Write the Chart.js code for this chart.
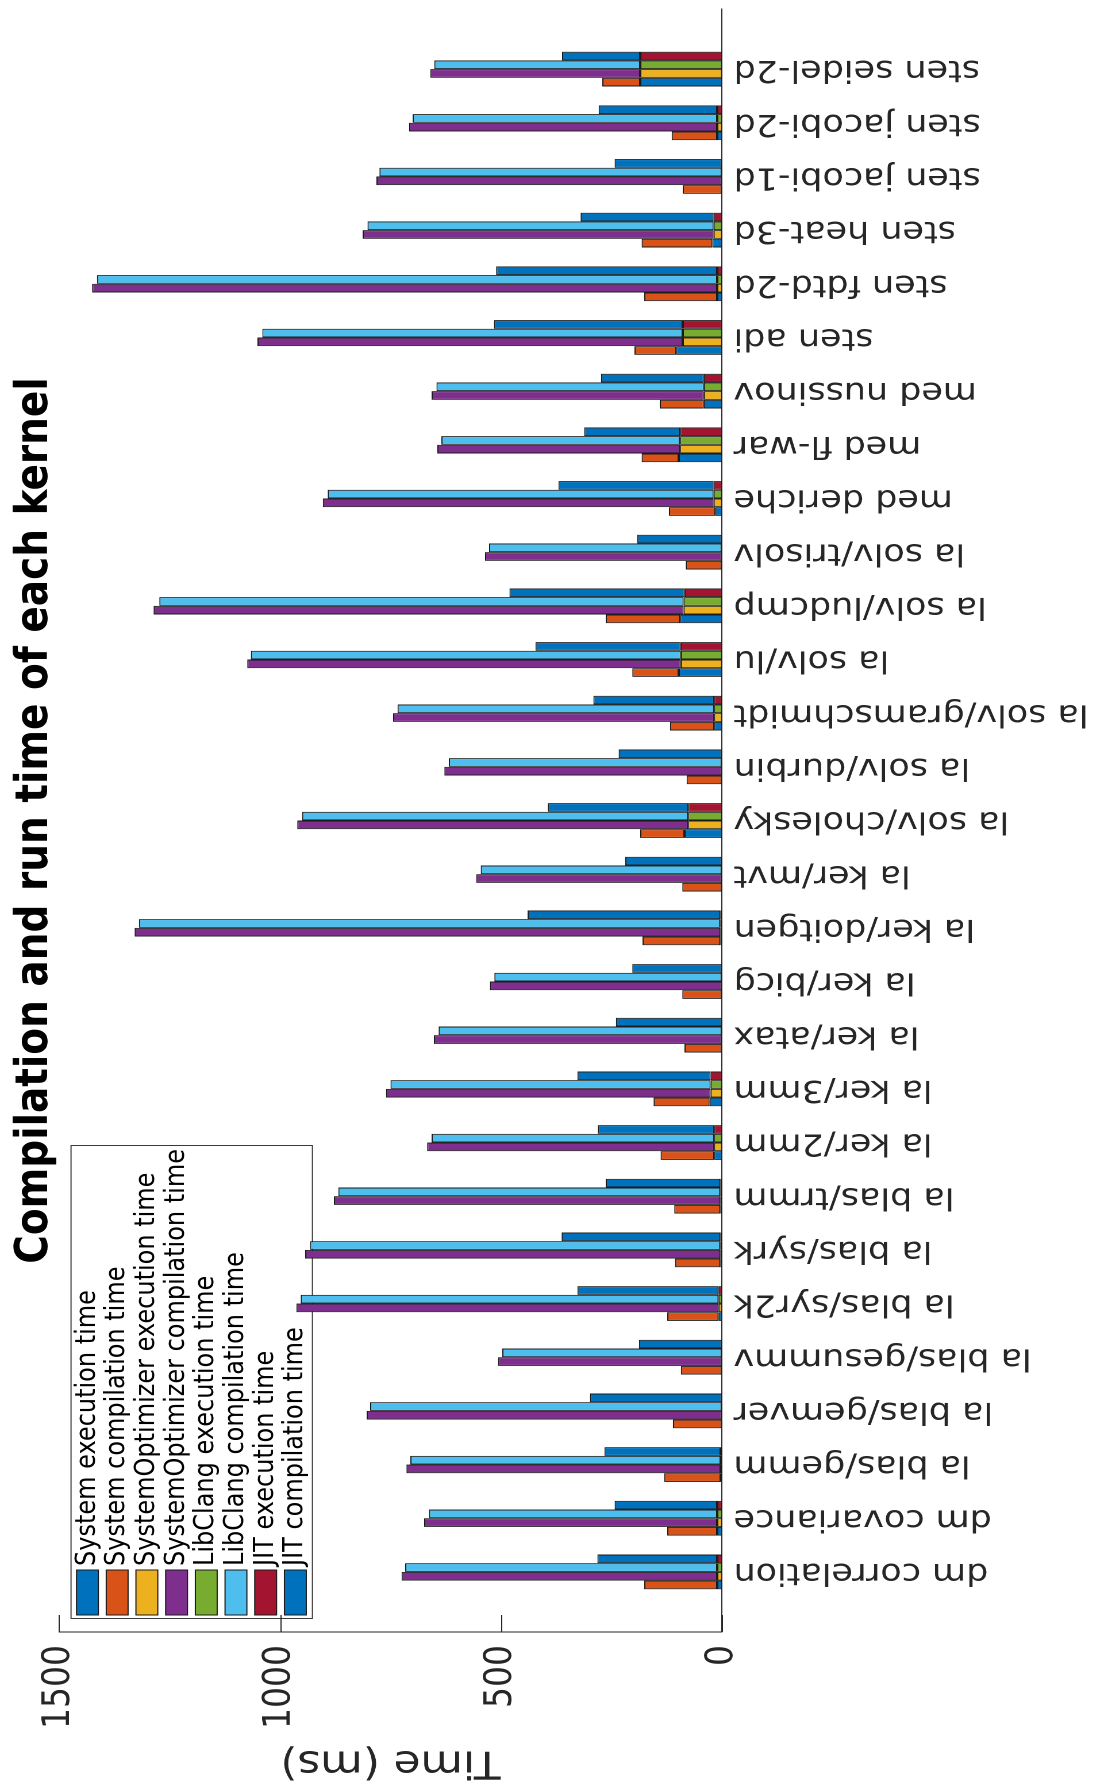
<!DOCTYPE html>
<html>
<head>
<meta charset="utf-8">
<script src="https://cdn.jsdelivr.net/npm/chart.js@4.4.1/dist/chart.umd.min.js"></script>
<style>
  html, body { margin: 0; padding: 0; background: #fff; width: 1100px; height: 1785px; overflow: hidden; }
  /* The chart is laid out landscape and turned a quarter turn for the portrait page. */
  #wrap {
    position: absolute; left: 0; top: 0; width: 1785px; height: 957px;
    transform-origin: 0 0;
    transform: translate(0px, 1785px) scaleX(1.1494) rotate(-90deg);
  }
  canvas { display: block; }
</style>
</head>
<body>
<div id="wrap"><canvas id="c" width="1785" height="957"></canvas></div>
<script>
const kernels = [
  'dm correlation', 'dm covariance', 'la blas/gemm', 'la blas/gemver', 'la blas/gesummv',
  'la blas/syr2k', 'la blas/syrk', 'la blas/trmm', 'la ker/2mm', 'la ker/3mm',
  'la ker/atax', 'la ker/bicg', 'la ker/doitgen', 'la ker/mvt', 'la solv/cholesky',
  'la solv/durbin', 'la solv/gramschmidt', 'la solv/lu', 'la solv/ludcmp', 'la solv/trisolv',
  'med deriche', 'med fl-war', 'med nussinov', 'sten adi', 'sten fdtd-2d',
  'sten heat-3d', 'sten jacobi-1d', 'sten jacobi-2d', 'sten seidel-2d'
];

// times in milliseconds, one entry per kernel
const systemExec = [11, 11, 3, 1, 1, 8, 4, 4, 18, 28, 1, 1, 4, 1, 85, 1, 18, 98, 95, 1, 15, 98, 41, 104, 11, 22, 1, 11, 185];
const systemComp = [165, 113, 128, 110, 92, 116, 102, 104, 121, 127, 84, 89, 176, 89, 100, 79, 100, 105, 168, 81, 105, 84, 100, 94, 165, 160, 88, 103, 86];
const optExec    = [11, 11, 3, 1, 1, 8, 4, 4, 18, 26, 1, 1, 4, 1, 77, 1, 18, 93, 87, 1, 19, 95, 41, 89, 11, 19, 1, 11, 185];
const optComp    = [714, 663, 711, 803, 506, 955, 939, 874, 649, 734, 651, 524, 1325, 555, 884, 627, 726, 981, 1199, 535, 884, 549, 616, 962, 1414, 794, 781, 697, 475];
const clangExec  = [11, 11, 3, 1, 1, 8, 4, 4, 18, 26, 1, 1, 4, 1, 77, 1, 18, 93, 87, 1, 19, 95, 41, 89, 11, 19, 1, 11, 185];
const clangComp  = [706, 652, 702, 795, 496, 945, 928, 864, 639, 724, 640, 514, 1315, 545, 873, 617, 716, 973, 1186, 526, 873, 540, 605, 951, 1403, 783, 774, 689, 466];
const jitExec    = [11, 11, 3, 1, 1, 8, 4, 4, 18, 26, 1, 1, 4, 1, 77, 1, 18, 93, 84, 1, 19, 95, 41, 89, 11, 19, 1, 11, 185];
const jitComp    = [271, 232, 263, 298, 187, 319, 359, 259, 263, 301, 239, 202, 436, 218, 317, 233, 273, 329, 397, 191, 351, 217, 233, 427, 500, 301, 242, 268, 177];

const timeTicks = [0, 500, 1000, 1500];
const chartTitle = 'Compilation and run time of each kernel';

const FONT = '"DejaVu Sans", sans-serif';
const INK = '#262626';

const pts = (arr) => arr.map((v, i) => ({ x: i + 1, y: v }));

function series(label, values, color, stack) {
  return {
    label, data: pts(values), stack,
    backgroundColor: color, borderColor: '#1a1a1a', borderWidth: 1, borderSkipped: false
  };
}

const datasets = [
  series('System execution time', systemExec, '#0072BD', 'system'),
  series('System compilation time', systemComp, '#D95319', 'system'),
  series('SystemOptimizer execution time', optExec, '#EDB120', 'optimizer'),
  series('SystemOptimizer compilation time', optComp, '#7E2F8E', 'optimizer'),
  series('LibClang execution time', clangExec, '#77AC30', 'libclang'),
  series('LibClang compilation time', clangComp, '#4DBEEE', 'libclang'),
  series('JIT execution time', jitExec, '#A2142F', 'jit'),
  series('JIT compilation time', jitComp, '#0072BD', 'jit')
];

// Title centred over the plot area
const titlePlugin = {
  id: 'plotTitle',
  afterDraw(chart) {
    const { ctx, chartArea: a } = chart;
    ctx.save();
    ctx.font = 'bold 39px ' + FONT;
    ctx.fillStyle = '#000';
    ctx.textAlign = 'center';
    ctx.textBaseline = 'alphabetic';
    ctx.fillText(chartTitle, (a.left + a.right) / 2, a.top - 10.5);
    ctx.restore();
  }
};

// Tick marks pointing into the plot along the time axis
const inwardTicks = {
  id: 'inwardTicks',
  afterDatasetsDraw(chart) {
    const { ctx, chartArea: a } = chart;
    const ys = chart.scales.y;
    ctx.save();
    ctx.strokeStyle = INK;
    ctx.lineWidth = 1;
    timeTicks.forEach((t) => {
      const py = Math.round(ys.getPixelForValue(t)) + 0.5;
      ctx.beginPath();
      ctx.moveTo(a.left, py);
      ctx.lineTo(a.left + 17, py);
      ctx.stroke();
    });
    ctx.restore();
  }
};

// Boxed legend in the top-left corner of the plot, under the bars
const legendBox = {
  id: 'legendBox',
  beforeDatasetsDraw(chart) {
    const { ctx, chartArea: a } = chart;
    const x0 = a.left + 13, y0 = a.top + 10, w = 473, h = 210;
    const rowH = 25.84, first = y0 + 14.8;
    ctx.save();
    ctx.fillStyle = '#fff';
    ctx.fillRect(x0, y0, w, h);
    ctx.strokeStyle = '#3a3a3a';
    ctx.lineWidth = 1;
    ctx.strokeRect(x0 + 0.5, y0 + 0.5, w, h);
    ctx.font = '24px ' + FONT;
    ctx.textAlign = 'left';
    ctx.textBaseline = 'middle';
    chart.data.datasets.forEach((ds, i) => {
      const cy = first + i * rowH;
      ctx.fillStyle = ds.backgroundColor;
      ctx.fillRect(x0 + 4, cy - 9.5, 45, 19);
      ctx.strokeStyle = '#1a1a1a';
      ctx.strokeRect(x0 + 4, cy - 9.5, 45, 19);
      ctx.fillStyle = '#000';
      ctx.fillText(ds.label, x0 + 53, cy);
    });
    ctx.restore();
  }
};

new Chart(document.getElementById('c'), {
  type: 'bar',
  data: { datasets },
  plugins: [titlePlugin, inwardTicks, legendBox],
  options: {
    responsive: false,
    animation: false,
    devicePixelRatio: 2,
    categoryPercentage: 0.648,
    barPercentage: 1,
    layout: { padding: { top: 51.3, right: 9, left: 0, bottom: 0 } },
    plugins: { legend: { display: false }, tooltip: { enabled: false }, title: { display: false } },
    scales: {
      x: {
        type: 'linear',
        stacked: true,
        offset: false,
        min: -0.12,
        max: 30.12,
        afterBuildTicks: (s) => { s.ticks = kernels.map((_, i) => ({ value: i + 1 })); },
        afterFit: (s) => { s.height = 328.8; },
        grid: { display: false, drawTicks: false },
        border: { display: true, color: INK, width: 1 },
        ticks: {
          autoSkip: false, minRotation: 90, maxRotation: 90, padding: 10,
          color: INK, font: { family: FONT, size: 30.4 },
          callback: (v) => kernels[v - 1]
        }
      },
      y: {
        stacked: true,
        min: 0,
        max: 1500,
        afterBuildTicks: (s) => { s.ticks = timeTicks.map((t) => ({ value: t })); },
        afterFit: (s) => { s.width = 153; },
        grid: { display: false, drawTicks: false },
        border: { display: true, color: INK, width: 1 },
        ticks: {
          padding: 13, color: INK, font: { family: FONT, size: 33 },
          callback: (v) => String(v)
        },
        title: {
          display: true, text: 'Time (ms)', color: INK,
          font: { family: FONT, size: 38 }, padding: { top: 1, bottom: 0 }
        }
      }
    }
  }
});
</script>
</body>
</html>
